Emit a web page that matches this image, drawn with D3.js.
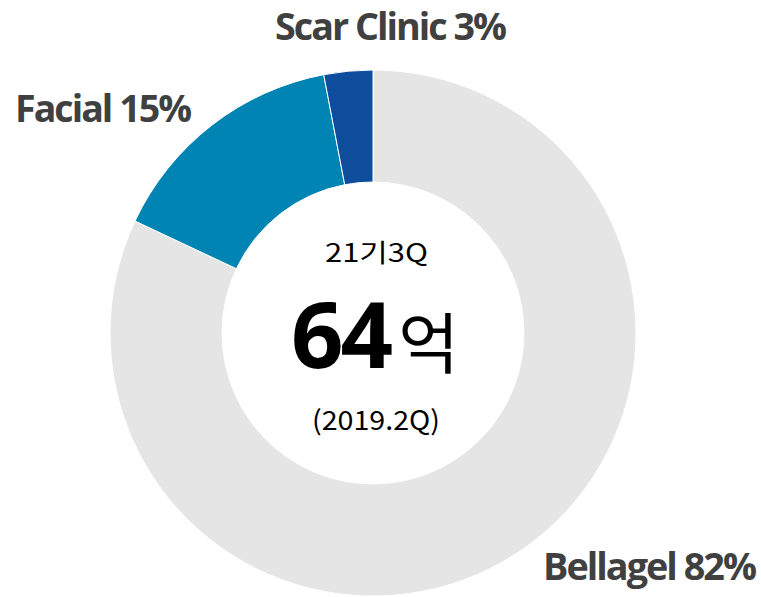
<!DOCTYPE html>
<meta charset="utf-8">
<script src="https://cdnjs.cloudflare.com/ajax/libs/d3/7.8.5/d3.min.js"></script>
<style>
body { margin: 0; background: #fff; }
.label { font-family: "Open Sans", "Noto Sans", sans-serif; font-weight: 700; fill: #404040; letter-spacing: -2px; }
.center { font-family: "Noto Sans CJK KR", "Open Sans", sans-serif; fill: #000; }
</style>
<body>
<script>
// segment data (clockwise from 12 o'clock)
var segments = ["Bellagel", "Facial", "Scar Clinic"];
var shares = [82, 15, 3];
var colors = ["#e5e5e5", "#0084b3", "#0d4d9b"];

// center text
var period = "21기3Q";
var total = "64";
var unit = "억";
var subPeriod = "(2019.2Q)";

var width = 761,
    height = 597,
    cx = 373, cy = 333,
    outer = 263, inner = 151;

var svg = d3.select("body").append("svg")
    .attr("width", width)
    .attr("height", height);

var pie = d3.pie().sort(null).value(function(d) { return d; });
var arc = d3.arc().innerRadius(inner).outerRadius(outer);

var g = svg.append("g").attr("transform", "translate(" + cx + "," + cy + ")");

g.selectAll("path")
    .data(pie(shares))
    .enter().append("path")
    .attr("d", arc)
    .attr("fill", function(d, i) { return colors[i]; })
    .attr("stroke", "#fff")
    .attr("stroke-width", 1);

// outside labels
var labelPos = [
  {x: 543, y: 580, w: 212},
  {x: 15, y: 122, w: 175},
  {x: 275, y: 40, w: 230}
];

svg.selectAll("text.label")
    .data(segments)
    .enter().append("text")
    .attr("class", "label")
    .attr("x", function(d, i) { return labelPos[i].x; })
    .attr("y", function(d, i) { return labelPos[i].y; })
    .attr("font-size", 38)
    .attr("textLength", function(d, i) { return labelPos[i].w; })
    .attr("lengthAdjust", "spacingAndGlyphs")
    .text(function(d, i) { return d + " " + shares[i] + "%"; });

// center text
svg.append("text")
    .attr("class", "center")
    .attr("x", 325).attr("y", 262)
    .attr("font-size", 25)
    .attr("textLength", 103)
    .attr("lengthAdjust", "spacingAndGlyphs")
    .text(period);

var big = svg.append("text")
    .attr("class", "center")
    .attr("x", 291).attr("y", 368);
big.append("tspan")
    .attr("font-family", "'Open Sans', sans-serif")
    .attr("font-weight", 700)
    .attr("font-size", 92)
    .attr("letter-spacing", -3)
    .text(total);
big.append("tspan")
    .attr("dx", 8)
    .attr("font-size", 66)
    .text(unit);

svg.append("text")
    .attr("class", "center")
    .attr("x", 312).attr("y", 430)
    .attr("font-size", 27)
    .attr("textLength", 128)
    .attr("lengthAdjust", "spacingAndGlyphs")
    .text(subPeriod);
</script>
